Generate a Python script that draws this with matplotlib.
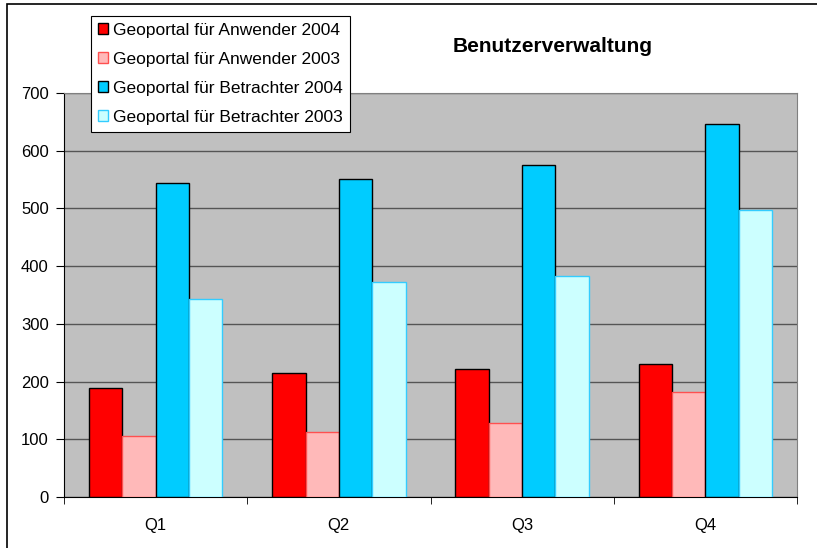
import numpy as np
import matplotlib.pyplot as plt
from matplotlib.patches import Rectangle

plt.rcParams['font.family'] = ['Liberation Sans', 'DejaVu Sans']

quarters = ["Q1", "Q2", "Q3", "Q4"]
anwender_2004 = [189, 214, 221, 231]
anwender_2003 = [105, 112, 128, 182]
betrachter_2004 = [544, 551, 575, 646]
betrachter_2003 = [343, 372, 383, 497]

series = [
    ("Geoportal für Anwender 2004", anwender_2004, "#ff0000", "#000000"),
    ("Geoportal für Anwender 2003", anwender_2003, "#ffb9b9", "#ff5050"),
    ("Geoportal für Betrachter 2004", betrachter_2004, "#00ccff", "#000000"),
    ("Geoportal für Betrachter 2003", betrachter_2003, "#ccffff", "#33ccff"),
]

fig = plt.figure(figsize=(8.17, 5.48), dpi=100)
ax = fig.add_axes([64 / 817, 1 - 497 / 548, (797 - 64) / 817, (497 - 93) / 548])
ax.set_facecolor("#c0c0c0")

# outer chart border (only top/left visible in the original)
fig.patches.append(Rectangle((7 / 817, -0.1), 1.2, 1 - 4 / 548 + 0.1,
                             transform=fig.transFigure, fill=False,
                             edgecolor="black", linewidth=1.2))

x = np.arange(len(quarters))
w = 0.182
for i, (label, vals, color, edge) in enumerate(series):
    ax.bar(x + (i - 1.5) * w, vals, w, color=color, edgecolor=edge,
           linewidth=1.0, label=label, zorder=3)

ax.set_xlim(-0.5, 3.5)
ax.set_ylim(0, 700)
ax.set_yticks(range(0, 701, 100))
ax.yaxis.grid(True, color="#555555", linewidth=1.0, zorder=1)
ax.set_xticks(x)
ax.set_xticklabels(quarters, fontsize=12)
ax.set_xticks(np.arange(-0.5, 4, 1), minor=True)
ax.tick_params(axis="x", which="major", length=0, pad=15)
ax.tick_params(axis="x", which="minor", length=5, color="black", direction="out")
ax.tick_params(axis="y", length=6, labelsize=12, pad=5)
for s in ["top", "right"]:
    ax.spines[s].set_color("#808080")
ax.spines["left"].set_color("black")
ax.spines["bottom"].set_color("black")

fig.text(553 / 817, 1 - 47 / 548, "Benutzerverwaltung", fontsize=15,
         fontweight="bold", ha="center", va="center")

leg = fig.legend(loc="upper left", bbox_to_anchor=(91 / 817, 1 - 16 / 548),
                 fontsize=12.5, frameon=True, fancybox=False, edgecolor="black",
                 framealpha=1, borderpad=0.4, labelspacing=0.8,
                 handlelength=0.58, handleheight=0.58, handletextpad=0.3,
                 borderaxespad=0)
leg.get_frame().set_linewidth(0.8)

fig.savefig("out.png", dpi=100)
